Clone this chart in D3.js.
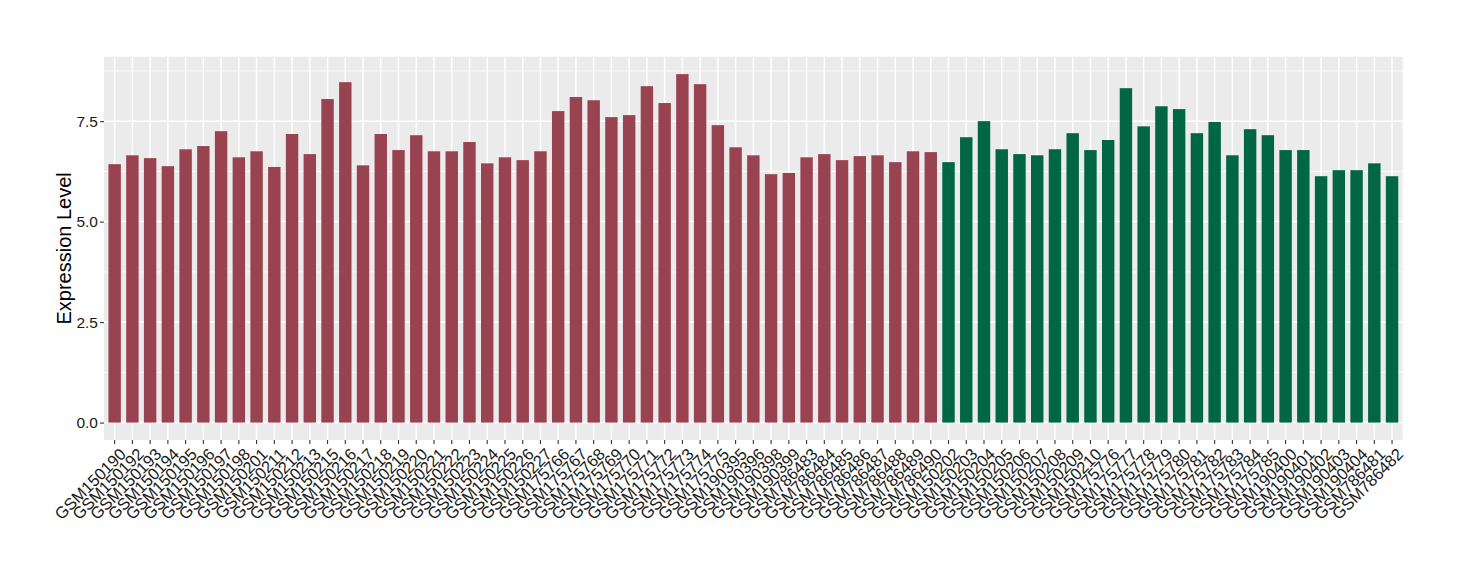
<!DOCTYPE html>
<html>
<head>
<meta charset="utf-8">
<script src="https://cdn.jsdelivr.net/npm/d3@7"></script>
<style>
  html, body { margin: 0; padding: 0; background: #ffffff; }
  svg { display: block; font-family: "Liberation Sans", Arial, Helvetica, sans-serif; }
</style>
</head>
<body>
<svg id="chart" width="1460" height="580"></svg>
<script>
const categories = [
  "GSM150190","GSM150192","GSM150193","GSM150194","GSM150195","GSM150196","GSM150197","GSM150198",
  "GSM150201","GSM150211","GSM150212","GSM150213","GSM150215","GSM150216","GSM150217","GSM150218",
  "GSM150219","GSM150220","GSM150221","GSM150222","GSM150223","GSM150224","GSM150225","GSM150226",
  "GSM150227","GSM175766","GSM175767","GSM175768","GSM175769","GSM175770","GSM175771","GSM175772",
  "GSM175773","GSM175774","GSM175775","GSM190395","GSM190396","GSM190398","GSM190399","GSM786483",
  "GSM786484","GSM786485","GSM786486","GSM786487","GSM786488","GSM786489","GSM786490",
  "GSM150202","GSM150203","GSM150204","GSM150205","GSM150206","GSM150207","GSM150208","GSM150209",
  "GSM150210","GSM175776","GSM175777","GSM175778","GSM175779","GSM175780","GSM175781","GSM175782",
  "GSM175783","GSM175784","GSM175785","GSM190400","GSM190401","GSM190402","GSM190403","GSM190404",
  "GSM786481","GSM786482"
];
const values = [
  6.43, 6.65, 6.58, 6.38, 6.80, 6.88, 7.25, 6.60,
  6.75, 6.36, 7.18, 6.68, 8.05, 8.47, 6.40, 7.18,
  6.78, 7.15, 6.75, 6.75, 6.98, 6.45, 6.60, 6.53,
  6.75, 7.75, 8.10, 8.02, 7.60, 7.65, 8.37, 7.95,
  8.67, 8.42, 7.40, 6.85, 6.65, 6.18, 6.21, 6.60,
  6.68, 6.53, 6.63, 6.65, 6.48, 6.75, 6.73,
  6.48, 7.10, 7.50, 6.80, 6.68, 6.65, 6.80, 7.20,
  6.78, 7.03, 8.32, 7.37, 7.87, 7.80, 7.20, 7.48,
  6.65, 7.30, 7.15, 6.78, 6.78, 6.13, 6.28, 6.28,
  6.45, 6.13
];
const groups = categories.map((c, i) => i < 47 ? "A" : "B");
const groupNames = ["A", "B"];
const groupColors = ["#9A4350", "#006644"];
const yTicks = [0, 2.5, 5, 7.5];
const yMinorTicks = [1.25, 3.75, 6.25, 8.75];
const yTitle = "Expression Level";

const svg = d3.select("#chart");
const panel = { left: 104, right: 1402.7, top: 56.7, bottom: 440 };

const x = d3.scaleBand()
  .domain(categories)
  .range([panel.left, panel.right])
  .paddingInner(0.3)
  .paddingOuter(0.25);

const maxV = d3.max(values);
const expand = maxV * 0.05;
const y = d3.scaleLinear()
  .domain([0 - expand, maxV + expand])
  .range([panel.bottom, panel.top]);

const color = d3.scaleOrdinal().domain(groupNames).range(groupColors);

// panel background
svg.append("rect")
  .attr("x", panel.left).attr("y", panel.top)
  .attr("width", panel.right - panel.left)
  .attr("height", panel.bottom - panel.top)
  .attr("fill", "#EBEBEB");

// minor horizontal grid
svg.append("g").selectAll("line").data(yMinorTicks).join("line")
  .attr("x1", panel.left).attr("x2", panel.right)
  .attr("y1", d => y(d)).attr("y2", d => y(d))
  .attr("stroke", "#ffffff").attr("stroke-width", 0.8);

// major horizontal grid
svg.append("g").selectAll("line").data(yTicks).join("line")
  .attr("x1", panel.left).attr("x2", panel.right)
  .attr("y1", d => y(d)).attr("y2", d => y(d))
  .attr("stroke", "#ffffff").attr("stroke-width", 1.5);

// vertical grid
svg.append("g").selectAll("line").data(categories).join("line")
  .attr("x1", d => x(d) + x.bandwidth() / 2).attr("x2", d => x(d) + x.bandwidth() / 2)
  .attr("y1", panel.top).attr("y2", panel.bottom)
  .attr("stroke", "#ffffff").attr("stroke-width", 1.5);

// bars
svg.append("g").selectAll("rect").data(categories).join("rect")
  .attr("x", d => x(d))
  .attr("width", x.bandwidth())
  .attr("y", (d, i) => y(values[i]))
  .attr("height", (d, i) => y(0) - y(values[i]))
  .attr("fill", (d, i) => color(groups[i]));

// y axis
const yAxis = d3.axisLeft(y).tickValues(yTicks).tickFormat(d3.format(".1f")).tickSize(4).tickPadding(2);
const gy = svg.append("g").attr("transform", `translate(${panel.left},0)`).call(yAxis);
gy.select(".domain").remove();
gy.selectAll(".tick line").attr("stroke", "#333333").attr("stroke-width", 1.1);
gy.selectAll(".tick text").attr("fill", "#1a1a1a").style("font-size", "15.5px")
  .style("font-family", "'Liberation Sans', Arial, sans-serif");

// x axis
const xAxis = d3.axisBottom(x).tickSize(4).tickPadding(3);
const gx = svg.append("g").attr("transform", `translate(0,${panel.bottom})`).call(xAxis);
gx.select(".domain").remove();
gx.selectAll(".tick line").attr("stroke", "#333333").attr("stroke-width", 1.1);
gx.selectAll(".tick text")
  .attr("fill", "#1a1a1a")
  .style("font-size", "16.5px")
  .style("font-family", "'Liberation Sans', Arial, sans-serif")
  .attr("text-anchor", "end")
  .attr("y", 0)
  .attr("dy", "0.71em")
  .attr("transform", "translate(4,7) rotate(-45)");

// y title
svg.append("text")
  .attr("transform", `translate(71,${(panel.top + panel.bottom) / 2}) rotate(-90)`)
  .attr("text-anchor", "middle")
  .style("font-size", "20px")
  .attr("fill", "#000000")
  .text(yTitle);
</script>
</body>
</html>
